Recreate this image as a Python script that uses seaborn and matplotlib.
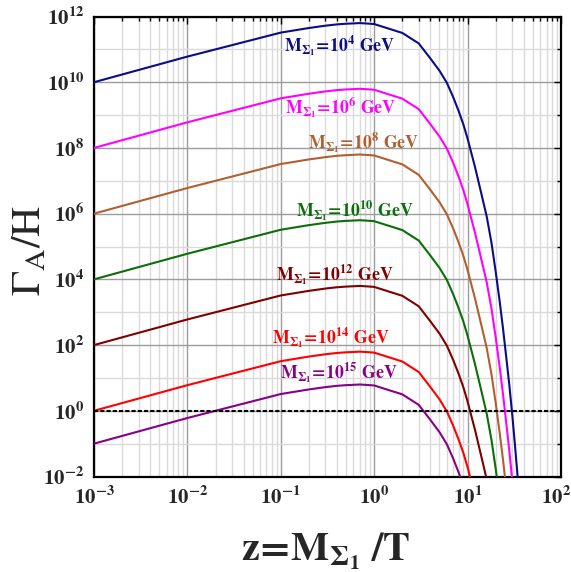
import numpy as np
import pandas as pd
import matplotlib
matplotlib.use("Agg")
import matplotlib.pyplot as plt
import matplotlib.ticker as mticker
import matplotlib.transforms as mtransforms
import seaborn as sns

# z = M_Sigma1 / T sample points
Z = [0.001, 0.01, 0.1, 0.2, 0.3, 0.4, 0.5, 0.6, 0.7, 0.8, 0.9, 1, 2, 3, 4, 5,
     6, 7, 8, 9, 10, 12, 14, 16, 18, 20, 22, 24, 26, 28, 30, 32, 34, 36, 38]

# log10(Gamma_A / H) for each triplet mass
LOG_RATE_1E4 = [10.00, 10.78, 11.51, 11.65, 11.72, 11.76, 11.78, 11.79, 11.80, 11.79,
                11.78, 11.77, 11.50, 11.18, 10.72, 10.35, 9.98, 9.55, 9.13, 8.72,
                8.28, 7.42, 6.62, 5.92, 5.12, 4.23, 3.35, 2.48, 1.60, 0.77, -0.09,
                -0.98, -1.87, -2.76, -3.60]
LOG_RATE_1E6 = [8.00, 8.78, 9.51, 9.65, 9.72, 9.76, 9.78, 9.79, 9.80, 9.79, 9.78,
                9.77, 9.50, 9.18, 8.72, 8.35, 7.98, 7.55, 7.13, 6.72, 6.28, 5.42,
                4.62, 3.92, 3.12, 2.23, 1.35, 0.48, -0.40, -1.23, -2.09, -2.98]
LOG_RATE_1E8 = [6.00, 6.78, 7.51, 7.65, 7.72, 7.76, 7.78, 7.79, 7.80, 7.79, 7.78,
                7.77, 7.50, 7.18, 6.72, 6.35, 5.98, 5.55, 5.13, 4.72, 4.28, 3.42,
                2.62, 1.92, 1.12, 0.23, -0.65, -1.52, -2.40, -3.23]
LOG_RATE_1E10 = [4.00, 4.78, 5.51, 5.65, 5.72, 5.76, 5.78, 5.79, 5.80, 5.79, 5.78,
                 5.77, 5.50, 5.18, 4.72, 4.35, 3.98, 3.55, 3.13, 2.72, 2.28, 1.42,
                 0.62, -0.08, -0.88, -1.77, -2.65]
LOG_RATE_1E12 = [2.00, 2.78, 3.51, 3.65, 3.72, 3.76, 3.78, 3.79, 3.80, 3.79, 3.78,
                 3.77, 3.50, 3.18, 2.72, 2.35, 1.98, 1.55, 1.13, 0.72, 0.28, -0.58,
                 -1.38, -2.08, -2.88]
LOG_RATE_1E14 = [0.00, 0.78, 1.51, 1.65, 1.72, 1.76, 1.78, 1.79, 1.80, 1.79, 1.78,
                 1.77, 1.50, 1.18, 0.72, 0.35, -0.02, -0.45, -0.87, -1.28, -1.72,
                 -2.58]
LOG_RATE_1E15 = [-1.00, -0.22, 0.51, 0.65, 0.72, 0.76, 0.78, 0.79, 0.80, 0.79, 0.78,
                 0.77, 0.50, 0.18, -0.28, -0.65, -1.02, -1.45, -1.87, -2.28]

MASS_EXPONENTS = ["4", "6", "8", "10", "12", "14", "15"]
SERIES = [LOG_RATE_1E4, LOG_RATE_1E6, LOG_RATE_1E8, LOG_RATE_1E10,
          LOG_RATE_1E12, LOG_RATE_1E14, LOG_RATE_1E15]
COLORS = ["#0c0c85", "#ff00ff", "#b0602e", "#0b6e0b", "#800000", "#ff0000", "#880088"]

X_TICKS = [1e-3, 1e-2, 1e-1, 1e0, 1e1, 1e2]
Y_TICKS = [1e-2, 1e0, 1e2, 1e4, 1e6, 1e8, 1e10, 1e12]
Y_MINOR = [1e-1, 1e1, 1e3, 1e5, 1e7, 1e9, 1e11]

sns.set_theme(style="white")
plt.rcParams["font.family"] = ["Liberation Serif", "DejaVu Serif"]
plt.rcParams["mathtext.fontset"] = "stix"

rows = []
for exp, logs in zip(MASS_EXPONENTS, SERIES):
    for z, lv in zip(Z, logs):
        rows.append({"z": z, "rate": 10.0 ** lv, "mass": exp})
df = pd.DataFrame(rows)

fig = plt.figure(figsize=(5.71, 5.72), dpi=100)
ax = fig.add_axes([94 / 571, 1 - 476.5 / 572, 467 / 571, 460 / 572])
ax.set_xscale("log")
ax.set_yscale("log")

sns.lineplot(data=df, x="z", y="rate", hue="mass", hue_order=MASS_EXPONENTS,
             palette=dict(zip(MASS_EXPONENTS, COLORS)), estimator=None,
             legend=False, linewidth=1.5, ax=ax, zorder=3)

ax.axhline(1.0, color="black", linestyle=(0, (2, 1)), linewidth=1.5, zorder=4)

ax.set_xlim(1e-3, 1e2)
ax.set_ylim(1e-2, 1e12)

fmt = mticker.FuncFormatter(lambda v, p: r"$\mathbf{10^{%d}}$" % round(np.log10(v)))
ax.xaxis.set_major_locator(mticker.FixedLocator(X_TICKS))
ax.xaxis.set_minor_locator(mticker.LogLocator(base=10, subs=np.arange(2, 10)))
ax.xaxis.set_minor_formatter(mticker.NullFormatter())
ax.xaxis.set_major_formatter(fmt)
ax.yaxis.set_major_locator(mticker.FixedLocator(Y_TICKS))
ax.yaxis.set_minor_locator(mticker.FixedLocator(Y_MINOR))
ax.yaxis.set_minor_formatter(mticker.NullFormatter())
ax.yaxis.set_major_formatter(fmt)

ax.set_axisbelow(True)
ax.grid(True, which="major", color="#9c9c9c", linewidth=1.0)
ax.grid(True, which="minor", color="#dadada", linewidth=1.0)

ax.tick_params(which="both", direction="in", top=True, right=True,
               color="black", width=1.0, labelsize=15, pad=7)
ax.tick_params(which="major", length=5)
ax.tick_params(which="minor", length=3)
for sp in ax.spines.values():
    sp.set_color("black")
    sp.set_linewidth(1.6)

ax.set_xlabel("")
ax.set_ylabel("")

# keep the rightmost x tick label inside the canvas
fig.canvas.draw()
last = ax.get_xticklabels()[-1]
last.set_horizontalalignment("right")
last.set_transform(last.get_transform() +
                   mtransforms.ScaledTranslation(10 / 100, 0, fig.dpi_scale_trans))

# curve annotations (axes-fraction positions)
label_pos = [(0.525, 0.937), (0.529, 0.801), (0.578, 0.725), (0.559, 0.579),
             (0.516, 0.438), (0.507, 0.303), (0.525, 0.225)]
for exp, col, (px, py) in zip(MASS_EXPONENTS, COLORS, label_pos):
    ax.text(px, py, r"$\mathbf{M_{\Sigma_1}\!{=}\!10^{%s}\ GeV}$" % exp,
            transform=ax.transAxes, color=col, fontsize=12.8,
            ha="center", va="center", zorder=5)

fig.text(30 / 571, 1 - 251 / 572, r"$\mathrm{\Gamma_A/H}$", rotation=90,
         fontsize=30, ha="center", va="center")
fig.text(326 / 571, 1 - 551 / 572, r"$\mathbf{z\!{=}\!M_{\Sigma_1}\ /T}$",
         fontsize=29, ha="center", va="center")

fig.savefig("out.png", dpi=100)
